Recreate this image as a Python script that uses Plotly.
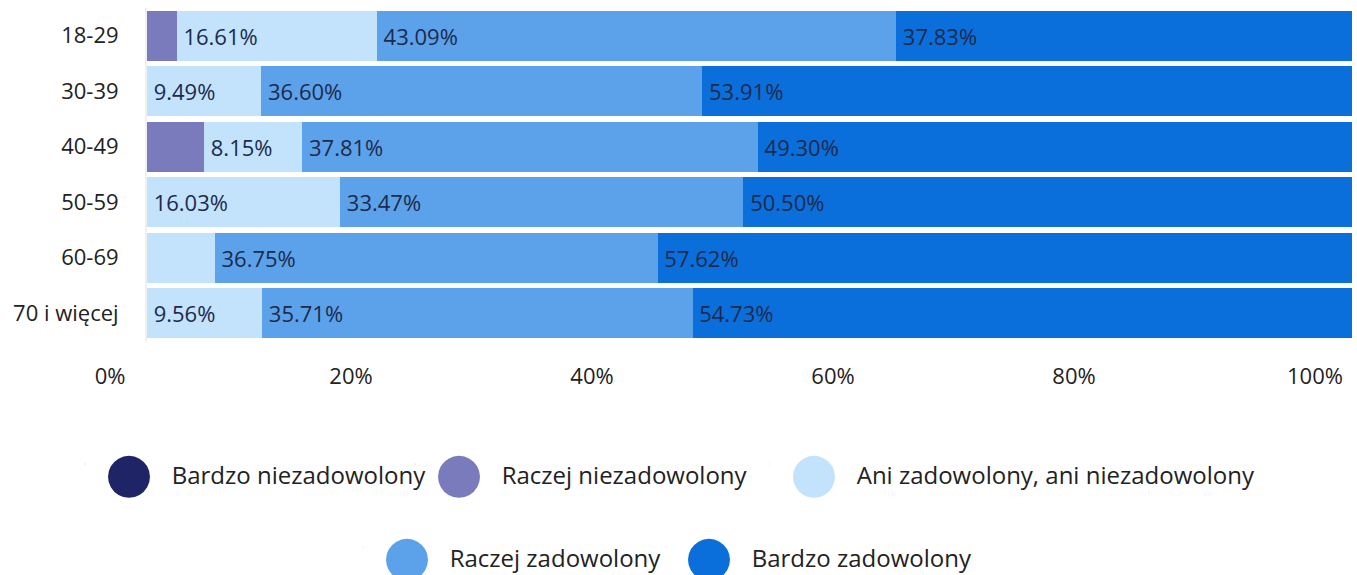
import plotly.graph_objects as go

categories = ["18-29", "30-39", "40-49", "50-59", "60-69", "70 i więcej"]
series_names = [
    "Bardzo niezadowolony",
    "Raczej niezadowolony",
    "Ani zadowolony, ani niezadowolony",
    "Raczej zadowolony",
    "Bardzo zadowolony",
]
bardzo_niezadowolony = [0.0, 0.0, 0.0, 0.0, 0.0, 0.0]
raczej_niezadowolony = [2.47, 0.0, 4.74, 0.0, 0.0, 0.0]
ani = [16.61, 9.49, 8.15, 16.03, 5.63, 9.56]
raczej_zadowolony = [43.09, 36.60, 37.81, 33.47, 36.75, 35.71]
bardzo_zadowolony = [37.83, 53.91, 49.30, 50.50, 57.62, 54.73]
x_ticks = [0, 20, 40, 60, 80, 100]
x_tick_labels = ["0%", "20%", "40%", "60%", "80%", "100%"]

colors = ["#1f2466", "#7a7bbd", "#c2e3fb", "#5ca2ea", "#0a6fdb"]
values = [bardzo_niezadowolony, raczej_niezadowolony, ani, raczej_zadowolony, bardzo_zadowolony]

FONT = "Open Sans"
W, H = 1357, 575

fig = go.Figure()
for name, vals, col in zip(series_names, values, colors):
    fig.add_trace(go.Bar(
        y=categories, x=vals, orientation="h", name=name,
        marker=dict(color=col, line=dict(width=0)),
        text=[f"\u2009{v:.2f}%" if v >= 7 else "" for v in vals],
        textposition="inside", insidetextanchor="start",
        textfont=dict(family=FONT, size=22, color="#1c2a4c"),
        constraintext="none", showlegend=False, hoverinfo="skip",
    ))

legend_ids = ["legend", "legend2", "legend3", "legend4", "legend5"]
for name, col, lid in zip(series_names, colors, legend_ids):
    fig.add_trace(go.Scatter(
        x=[None], y=[None], mode="markers", marker=dict(opacity=0, size=1),
        name=(f'<span style="font-family:DejaVu Sans;font-size:55px;fill:{col};'
              f'baseline-shift:-7px">●</span>'
              f'<span style="font-size:24px">   {name}</span>'),
        legend=lid, hoverinfo="skip",
    ))

# legend boxes: left edge (px) and vertical centre (px) of each entry
legend_left = [65, 395, 750, 343, 645]
legend_mid = [475, 475, 475, 558, 558]

legend_layout = {}
for lid, lx, ly in zip(legend_ids, legend_left, legend_mid):
    legend_layout[lid] = dict(
        orientation="h", xref="container", yref="container",
        x=lx / W, xanchor="left", y=1 - (ly - 11) / H, yanchor="middle",
        font=dict(family=FONT, size=50, color="#222222"),
        bgcolor="rgba(0,0,0,0)")

fig.update_layout(
    width=W, height=H,
    margin=dict(l=147, r=5, t=8, b=234),
    paper_bgcolor="white", plot_bgcolor="white",
    barmode="stack", bargap=0.097,
    font=dict(family=FONT, size=22, color="#222222"),
    xaxis=dict(range=[0, 100], tickvals=x_ticks, ticktext=x_tick_labels,
               showgrid=False, zeroline=False, fixedrange=True,
               ticklabelstandoff=20, ticklabelshift=-37,
               tickfont=dict(family=FONT, size=22, color="#222222")),
    yaxis=dict(autorange="reversed", showgrid=False, zeroline=False,
               showline=True, linecolor="#f0f0f0", linewidth=2,
               ticklabelstandoff=22, automargin=False, fixedrange=True,
               tickfont=dict(family=FONT, size=22, color="#222222")),
    **legend_layout,
)

fig.write_html("out.html", config={"displayModeBar": False},
               post_script="document.body.style.margin='0px';document.body.style.overflow='hidden';")
